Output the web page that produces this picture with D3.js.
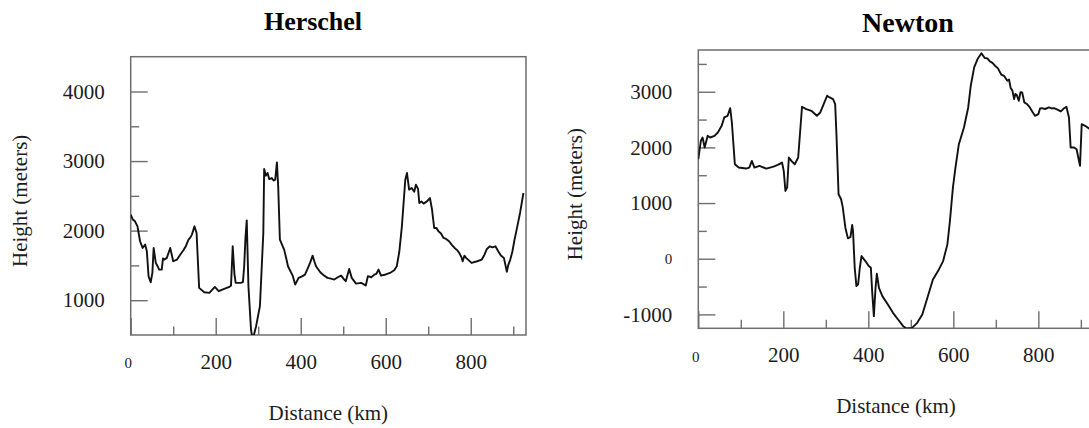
<!DOCTYPE html>
<html>
<head>
<meta charset="utf-8">
<script src="https://cdn.jsdelivr.net/npm/d3@7/dist/d3.min.js"></script>
<style>
  body { margin: 0; background: #fff; }
  svg { display: block; }
  svg text { font-family: "Liberation Serif", "Times New Roman", Times, serif; }
</style>
</head>
<body>
<div id="vis"></div>
<script>
// --- profile data ---
const herschelKm = [0,5,10,16,22,28,34,38,42,47,51,54,59,64,67,73,76,79,85,93,100,109,116,124,130,136,140,144,150,155,161,173,185,198,207,220,232,236,240,244,247,259,264,267,270,273,277,283,287,295,304,312,314,318,322,326,332,336,340,344,347,351,356,361,366,370,381,387,395,402,410,416,422,428,432,436,446,454,463,471,479,487,495,502,506,514,520,530,542,548,553,558,566,573,578,583,589,600,610,620,626,632,638,646,650,655,661,667,671,676,679,684,689,697,704,709,714,719,724,730,736,742,749,755,762,768,773,778,781,785,789,802,815,826,832,838,845,851,858,865,871,878,885,888,893,898,903,908,916,924,930];
const herschelHeight = [2230,2160,2134,2062,1847,1751,1799,1703,1345,1258,1392,1751,1536,1480,1440,1440,1600,1584,1608,1751,1560,1584,1650,1718,1780,1871,1900,1943,2062,1967,1177,1115,1105,1191,1129,1163,1191,1210,1775,1380,1249,1249,1260,1488,1900,2148,1201,579,430,627,914,1967,2885,2790,2830,2740,2756,2720,2732,2981,2636,1871,1800,1727,1600,1488,1354,1225,1321,1340,1368,1450,1536,1641,1560,1488,1402,1360,1321,1310,1297,1330,1354,1300,1273,1450,1321,1239,1249,1230,1211,1345,1330,1368,1380,1440,1354,1370,1392,1430,1488,1700,2062,2732,2828,2589,2613,2560,2660,2600,2397,2420,2388,2420,2469,2300,2038,2040,1990,1960,1895,1880,1847,1800,1751,1720,1679,1620,1560,1640,1608,1536,1560,1584,1650,1737,1775,1760,1775,1700,1641,1608,1410,1500,1584,1700,1871,2014,2254,2541];

const newtonKm = [0,6,10,15,22,28,38,46,55,61,69,75,79,86,95,112,120,126,132,144,160,177,187,197,201,205,209,213,219,227,235,244,254,266,279,287,295,303,309,317,322,325,330,336,340,346,352,358,362,364,368,372,376,380,384,393,401,406,409,413,417,420,425,433,446,458,470,482,490,503,515,527,539,552,564,576,586,592,599,605,613,625,635,641,649,657,666,674,680,686,692,698,705,713,720,727,731,735,739,743,746,749,752,754,758,762,767,773,780,786,792,800,804,808,816,825,831,837,845,853,860,866,872,876,884,890,898,902,910,919,930];
const newtonHeight = [1788,2118,2178,1998,2208,2178,2208,2268,2388,2538,2568,2706,2448,1698,1638,1620,1638,1758,1638,1668,1620,1656,1686,1728,1578,1218,1278,1818,1758,1698,1818,2730,2688,2658,2568,2628,2778,2928,2898,2868,2778,2238,1158,1068,918,558,366,390,606,498,-162,-492,-462,-162,48,-42,-132,-162,-582,-1032,-522,-270,-522,-672,-822,-972,-1092,-1212,-1254,-1242,-1152,-1002,-702,-372,-222,-42,258,678,1278,1638,2058,2358,2718,3108,3438,3588,3690,3606,3600,3546,3520,3468,3420,3306,3280,3198,3220,3066,3020,2868,2960,2946,2880,2838,2990,2988,2808,2780,2718,2640,2568,2598,2700,2706,2690,2718,2700,2706,2680,2646,2700,2730,2538,1998,2000,1968,1668,2418,2388,2342,2250];

const xTicks = [0, 200, 400, 600, 800];
const xMinorTicks = [100, 300, 500, 700, 900];
const herschelYTicks = [1000, 2000, 3000, 4000];
const herschelYMinor = [1500, 2500, 3500];
const newtonYTicks = [-1000, 0, 1000, 2000, 3000];
const newtonYMinor = [-500, 500, 1500, 2500, 3500];

const titles = ['Herschel', 'Newton'];
const xTitle = 'Distance (km)';
const yTitle = 'Height (meters)';

// panel layout (pixels)
const layouts = [
  { left: 130.7, top: 56.7, width: 395.3, height: 278.3, titleX: 313, titleY: 29.5, titleSize: 26, yTitleX: 27, xTitleY: 420 },
  { left: 698.3, top: 50,   width: 395.3, height: 278.3, titleX: 908, titleY: 31.5, titleSize: 28, yTitleX: 581.7, xTitleY: 413 }
];

const panels = [
  { km: herschelKm, h: herschelHeight, xDomain: [0, 930], yDomain: [500, 4500], yTicks: herschelYTicks, yMinor: herschelYMinor },
  { km: newtonKm,   h: newtonHeight,   xDomain: [0, 930], yDomain: [-1250, 3750], yTicks: newtonYTicks, yMinor: newtonYMinor }
];

const FONT = '"Liberation Serif", "Times New Roman", Times, serif';
const FRAME = '#6e6e6e';
const INK = '#1c1c1c';

const svg = d3.select('#vis').append('svg')
  .attr('width', 1089)
  .attr('height', 428);

function styleAxis(sel) {
  sel.attr('font-family', null).attr('font-size', null);
  sel.select('.domain').remove();
  sel.selectAll('.tick line').attr('stroke', FRAME).attr('stroke-width', 1.4);
  sel.selectAll('.tick text')
    .attr('fill', INK)
    .style('font-family', FONT)
    .style('font-size', '21px');
  // the zero label is set smaller in the original
  sel.selectAll('.tick text').filter(d => d === 0)
    .style('font-size', '15px');
}

function drawPanel(p, lay, i) {
  const g = svg.append('g').attr('transform', `translate(${lay.left},${lay.top})`);

  const x = d3.scaleLinear().domain(p.xDomain).range([0, lay.width]);
  const y = d3.scaleLinear().domain(p.yDomain).range([lay.height, 0]);

  // major + minor ticks, pointing inward
  g.append('g')
    .attr('transform', `translate(0,${lay.height})`)
    .call(d3.axisBottom(x).tickValues(xTicks).tickSize(-17).tickPadding(19).tickFormat(d => String(d)))
    .call(styleAxis)
    .call(a => a.selectAll('.tick text').filter(d => d === 0).attr('dy', '0.95em').attr('dx', '-3'));

  g.append('g')
    .attr('transform', `translate(0,${lay.height})`)
    .call(d3.axisBottom(x).tickValues(xMinorTicks).tickSize(-8.5).tickFormat(''))
    .call(styleAxis);

  g.append('g')
    .call(d3.axisLeft(y).tickValues(p.yTicks).tickSize(-17).tickPadding(26).tickFormat(d => String(d)))
    .call(styleAxis);

  g.append('g')
    .call(d3.axisLeft(y).tickValues(p.yMinor).tickSize(-8.5).tickFormat(''))
    .call(styleAxis);

  // frame
  g.append('rect')
    .attr('width', lay.width)
    .attr('height', lay.height)
    .attr('fill', 'none')
    .attr('stroke', FRAME)
    .attr('stroke-width', 1.5);

  g.append('clipPath').attr('id', 'clip' + i)
    .append('rect').attr('width', lay.width).attr('height', lay.height);

  const pts = p.km.map((k, j) => ({ km: k, h: p.h[j] }));
  const line = d3.line().x(d => x(d.km)).y(d => y(d.h));

  g.append('path')
    .datum(pts)
    .attr('clip-path', `url(#clip${i})`)
    .attr('d', line)
    .attr('fill', 'none')
    .attr('stroke', '#111')
    .attr('stroke-width', 1.9)
    .attr('stroke-linejoin', 'round');

  // titles
  svg.append('text')
    .attr('x', lay.titleX)
    .attr('y', lay.titleY)
    .attr('text-anchor', 'middle')
    .style('font-family', FONT)
    .style('font-weight', 'bold')
    .style('font-size', lay.titleSize + 'px')
    .attr('fill', '#000')
    .text(titles[i]);

  svg.append('text')
    .attr('x', lay.left + lay.width / 2)
    .attr('y', lay.xTitleY)
    .attr('text-anchor', 'middle')
    .style('font-family', FONT)
    .style('font-size', '21px')
    .attr('fill', INK)
    .text(xTitle);

  svg.append('text')
    .attr('transform', `translate(${lay.yTitleX},${lay.top + lay.height / 2 + 5}) rotate(-90)`)
    .attr('text-anchor', 'middle')
    .style('font-family', FONT)
    .style('font-size', '21px')
    .attr('fill', INK)
    .text(yTitle);
}

panels.forEach((p, i) => drawPanel(p, layouts[i], i));
</script>
</body>
</html>
